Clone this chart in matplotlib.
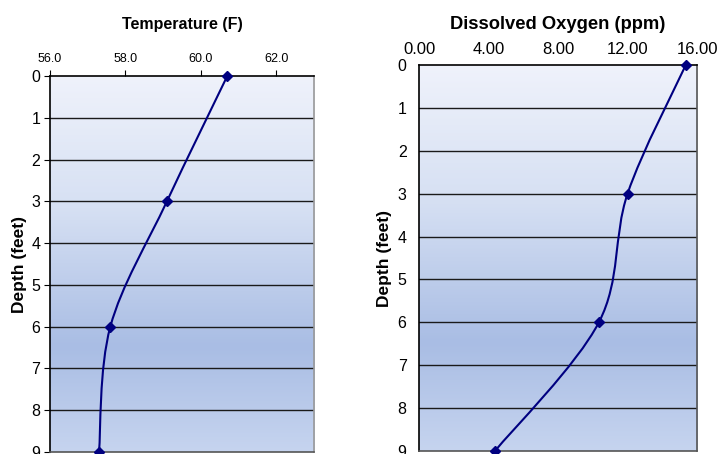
import matplotlib
matplotlib.use("Agg")
import matplotlib.pyplot as plt
import numpy as np
from matplotlib.colors import LinearSegmentedColormap
from matplotlib.path import Path
from matplotlib.patches import PathPatch

plt.rcParams['font.family'] = ['Liberation Sans', 'DejaVu Sans']

depth = [0, 3, 6, 9]
temperature = [60.7, 59.1, 57.6, 57.3]
oxygen = [15.35, 12.0, 10.35, 4.37]

temp_ticks = [56.0, 58.0, 60.0, 62.0]
oxy_ticks = [0.0, 4.0, 8.0, 12.0, 16.0]

NAVY = '#000080'

bg = LinearSegmentedColormap.from_list(
    'bg', [(0.0, '#eff2fb'), (0.35, '#d6e0f3'), (0.72, '#a9bde4'), (1.0, '#c6d4ef')])


def smooth_path(xs, ys):
    # Excel-like smoothed line: Catmull-Rom converted to cubic Bezier
    pts = np.column_stack([xs, ys]).astype(float)
    ext = np.vstack([pts[0], pts, pts[-1]])
    verts = [pts[0]]
    codes = [Path.MOVETO]
    for i in range(len(pts) - 1):
        p0, p1, p2, p3 = ext[i], ext[i + 1], ext[i + 2], ext[i + 3]
        verts += [p1 + (p2 - p0) / 6, p2 - (p3 - p1) / 6, p2]
        codes += [Path.CURVE4] * 3
    return Path(verts, codes)


def panel(ax, xs, xlim, ticks, fmt, title, tick_size, title_size, show_ticks, right_color,
          title_pad, ylabel_pad):
    ax.imshow(np.linspace(0, 1, 256).reshape(-1, 1), cmap=bg, aspect='auto',
              extent=[xlim[0], xlim[1], 9, 0], zorder=0)
    ax.set_xlim(*xlim)
    ax.set_ylim(9, 0)
    for d in range(1, 9):
        ax.axhline(d, color='#1a1a1a', lw=1.0, zorder=1)
    ax.add_patch(PathPatch(smooth_path(xs, depth), fill=False, edgecolor=NAVY, lw=1.5, zorder=3))
    ax.plot(xs, depth, linestyle='none', marker='D', color=NAVY, ms=5.5, zorder=4, clip_on=False)
    ax.xaxis.tick_top()
    ax.set_xticks(ticks)
    ax.set_xticklabels([fmt.format(t) for t in ticks], fontsize=tick_size)
    ax.set_yticks(range(0, 10))
    ax.tick_params(axis='y', labelsize=11.5)
    if show_ticks:
        ax.tick_params(axis='x', length=4, width=0.8, pad=4)
        ax.tick_params(axis='y', length=4, width=0.8, pad=3)
    else:
        ax.tick_params(axis='x', length=0, pad=6)
        ax.tick_params(axis='y', length=0, pad=9)
    ax.set_title(title, fontsize=title_size, fontweight='bold', pad=title_pad)
    ax.set_ylabel('Depth (feet)', fontsize=12.5, fontweight='bold', labelpad=ylabel_pad)
    for s in ['left', 'top']:
        ax.spines[s].set_color('#000000')
    ax.spines['right'].set_color(right_color)
    ax.spines['bottom'].set_color('#555555')
    for s in ax.spines.values():
        s.set_linewidth(1.2)


fig = plt.figure(figsize=(7.18, 4.54), dpi=100)
ax1 = fig.add_axes([0.0696, 0.0044, 0.3677, 0.828])
ax2 = fig.add_axes([0.5836, 0.0066, 0.3872, 0.850])

panel(ax1, temperature, (56, 63), temp_ticks, '{:.1f}', 'Temperature (F)', 9, 11.5, True,
      '#999999', 34, 3)
panel(ax2, oxygen, (0, 16), oxy_ticks, '{:.2f}', 'Dissolved Oxygen (ppm)', 12, 13.2, False,
      '#555555', 26, 4)

fig.savefig('out.png', dpi=100)
